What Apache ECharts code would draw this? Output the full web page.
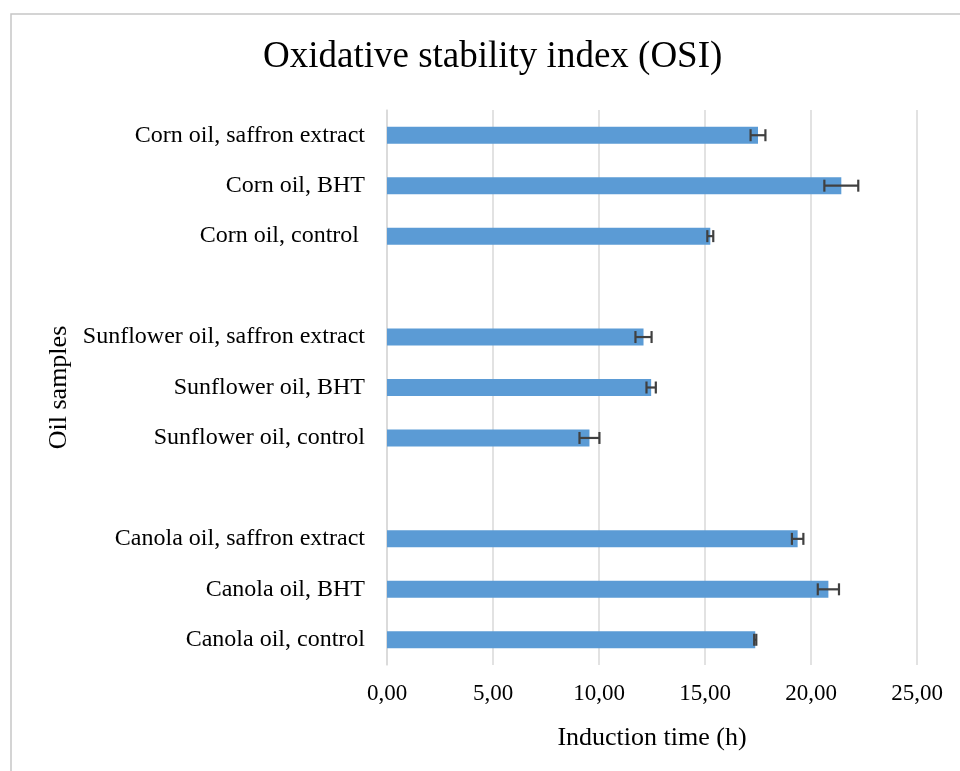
<!DOCTYPE html>
<html>
<head>
<meta charset="utf-8">
<script src="https://cdn.jsdelivr.net/npm/echarts@6/dist/echarts.min.js"></script>
<style>
  html, body { margin: 0; padding: 0; background: #fff; }
  #chart { width: 960px; height: 771px; }
</style>
</head>
<body>
<div id="chart"></div>
<script>
// categories top to bottom (blank slots separate the oil groups)
var categories = [
  'Corn oil, saffron extract', 'Corn oil, BHT', 'Corn oil, control ',
  '',
  'Sunflower oil, saffron extract', 'Sunflower oil, BHT', 'Sunflower oil, control',
  ' ',
  'Canola oil, saffron extract', 'Canola oil, BHT', 'Canola oil, control'
];
// induction time (h)
var inductionTime = [17.5, 21.43, 15.25, null, 12.1, 12.46, 9.55, null, 19.37, 20.82, 17.37];
// standard deviation (error bars)
var errors = [0.35, 0.8, 0.14, null, 0.38, 0.22, 0.47, null, 0.27, 0.5, 0.05];
var xTicks = [0, 5, 10, 15, 20, 25];

var errData = [];
for (var i = 0; i < categories.length; i++) {
  if (inductionTime[i] != null) {
    errData.push([i, inductionTime[i] - errors[i], inductionTime[i] + errors[i]]);
  }
}

var chart = echarts.init(document.getElementById('chart'));
var serif = '"Liberation Serif", "Times New Roman", serif';

var option = {
  animation: false,
  backgroundColor: '#fff',
  textStyle: { fontFamily: serif },
  title: {
    text: 'Oxidative stability index (OSI)',
    left: 258,
    top: 34,
    textStyle: { fontFamily: serif, fontSize: 37, fontWeight: 'normal', color: '#000' }
  },
  graphic: [{
    type: 'rect',
    shape: { x: 11, y: 14, width: 980, height: 800 },
    style: { fill: 'none', stroke: '#c6c6c6', lineWidth: 1.5 },
    silent: true
  }],
  grid: { left: 387, right: 43, top: 110, bottom: 106 },
  xAxis: {
    type: 'value',
    min: xTicks[0],
    max: xTicks[xTicks.length - 1],
    interval: 5,
    name: 'Induction time (h)',
    nameLocation: 'middle',
    nameGap: 60,
    nameTextStyle: { fontFamily: serif, fontSize: 26, color: '#000' },
    axisLine: { show: false },
    axisTick: { show: false },
    axisLabel: {
      margin: 17,
      fontFamily: serif, fontSize: 23, color: '#000',
      formatter: function (v) { return v.toFixed(2).replace('.', ','); }
    },
    splitLine: { show: true, lineStyle: { color: '#d9d9d9', width: 1.5 } }
  },
  yAxis: {
    type: 'category',
    data: categories,
    inverse: true,
    name: 'Oil samples',
    nameLocation: 'middle',
    nameRotate: 90,
    nameGap: 307,
    nameTextStyle: { fontFamily: serif, fontSize: 26, color: '#000' },
    axisLine: { show: true, lineStyle: { color: '#d9d9d9', width: 1.5 } },
    axisTick: { show: false },
    axisLabel: { margin: 22, fontFamily: serif, fontSize: 24, color: '#000' },
    splitLine: { show: false }
  },
  series: [
    {
      name: 'Induction time',
      type: 'bar',
      data: inductionTime,
      barWidth: 17,
      itemStyle: { color: '#5b9bd5' }
    },
    {
      name: 'SD',
      type: 'custom',
      data: errData,
      encode: { x: [1, 2], y: 0 },
      z: 3,
      renderItem: function (params, api) {
        var idx = api.value(0);
        var lo = api.coord([api.value(1), idx]);
        var hi = api.coord([api.value(2), idx]);
        var h = 6;
        var style = { stroke: '#404040', lineWidth: 2.2 };
        return {
          type: 'group',
          children: [
            { type: 'line', shape: { x1: lo[0], y1: lo[1], x2: hi[0], y2: hi[1] }, style: style },
            { type: 'line', shape: { x1: lo[0], y1: lo[1] - h, x2: lo[0], y2: lo[1] + h }, style: style },
            { type: 'line', shape: { x1: hi[0], y1: hi[1] - h, x2: hi[0], y2: hi[1] + h }, style: style }
          ]
        };
      }
    }
  ]
};
chart.setOption(option);
</script>
</body>
</html>
